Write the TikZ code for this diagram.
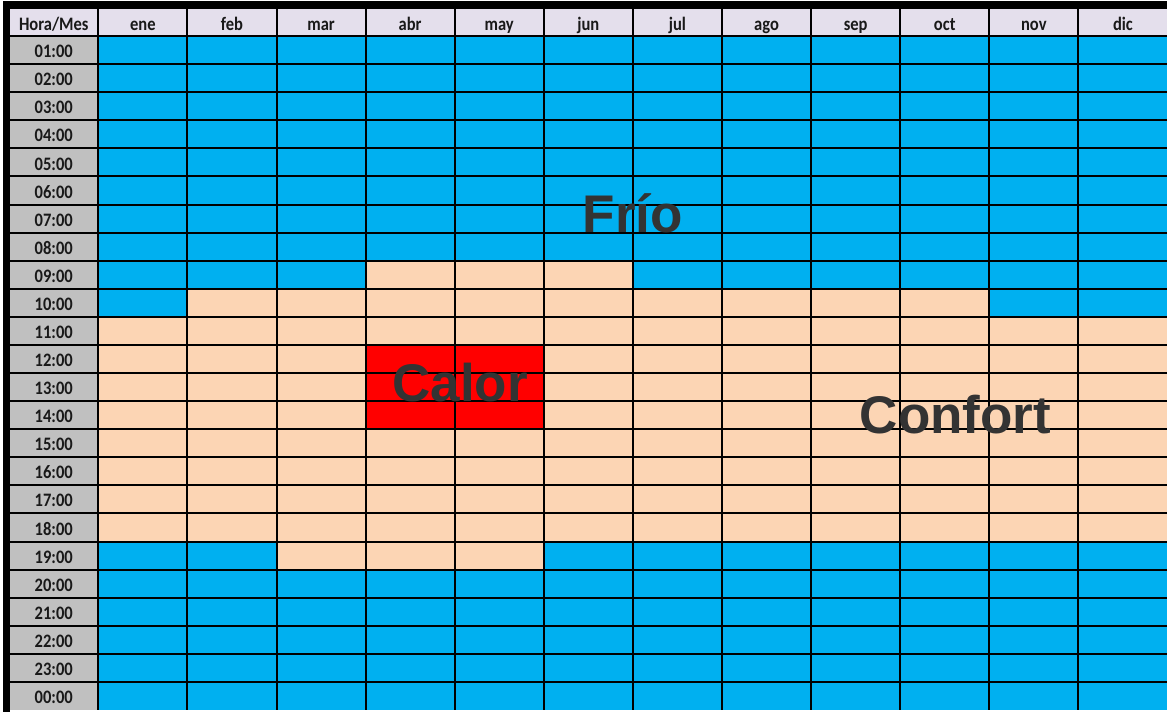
\documentclass[tikz,border=0pt]{standalone}
\usepackage{fontspec}
\setmainfont{Liberation Sans}
\newfontfamily\celda[FakeStretch=0.87]{Carlito}

\definecolor{frio}{HTML}{00B0F0}
\definecolor{confort}{HTML}{FCD5B4}
\definecolor{calor}{HTML}{FF0000}
\definecolor{cabecera}{HTML}{E4DFEC}
\definecolor{hora}{HTML}{C0C0C0}
\definecolor{rotulo}{HTML}{333333}

\begin{document}
\begin{tikzpicture}[x=1pt,y=-1pt,
    celdatxt/.style={anchor=base, inner sep=0pt, text=black!90,
        font=\celda\bfseries\fontsize{19}{19}\selectfont},
    zona/.style={anchor=base, inner sep=0pt, text=rotulo,
        font=\bfseries\fontsize{53}{53}\selectfont},
    rejilla/.style={line width=2pt, black}]

    \useasboundingbox (0,0) rectangle (1167,712);

    % 外框
    \fill[black] (3,1) rectangle (1167,8);
    \fill[black] (3,1) rectangle (10,712);

    % 表格,使用 scope 包裹
    \begin{scope}[shift={(98.3,8)}, x=89.1pt, y=-28.08pt]
        % 表头与时间列
        \fill[cabecera] (-1,0) rectangle (12,1);
        \fill[hora] (-1,1) rectangle (0,25);

        % 冷
        \fill[frio] (0,1) rectangle (12,25);

        % 舒适
        \fill[confort] (3,9) rectangle (6,10);
        \fill[confort] (1,10) rectangle (10,11);
        \fill[confort] (0,11) rectangle (12,19);
        \fill[confort] (2,19) rectangle (5,20);

        % 热
        \fill[calor] (3,12) rectangle (5,15);

        % 网格
        \foreach \i in {-1,...,12}
            \draw[rejilla] (\i,0) -- (\i,25);
        \foreach \j in {0,...,24}
            \draw[rejilla] (-1,\j) -- (12,\j);

        % 表头
        \node[celdatxt] (hm) at (-0.5,0.8) {Hora/Mes};
        \foreach \m [count=\k from 0] in {ene,feb,mar,abr,may,jun,jul,ago,sep,oct,nov,dic}
            \node[celdatxt] (m\k) at (\k+0.5,0.8) {\m};

        % 时间
        \foreach \t [count=\h] in {01:00,02:00,03:00,04:00,05:00,06:00,07:00,08:00,
                09:00,10:00,11:00,12:00,13:00,14:00,15:00,16:00,17:00,18:00,
                19:00,20:00,21:00,22:00,23:00,00:00}
            \node[celdatxt] (h\h) at (-0.5,\h+0.77) {\t};

        % 区域标注
        \node[zona] (frio) at (6.0,8.0) {Frío};
        \node[zona] (calor) at (4.06,14.03) {Calor};
        \node[zona] (confort) at (9.62,15.14) {Confort};
    \end{scope}

\end{tikzpicture}
\end{document}
